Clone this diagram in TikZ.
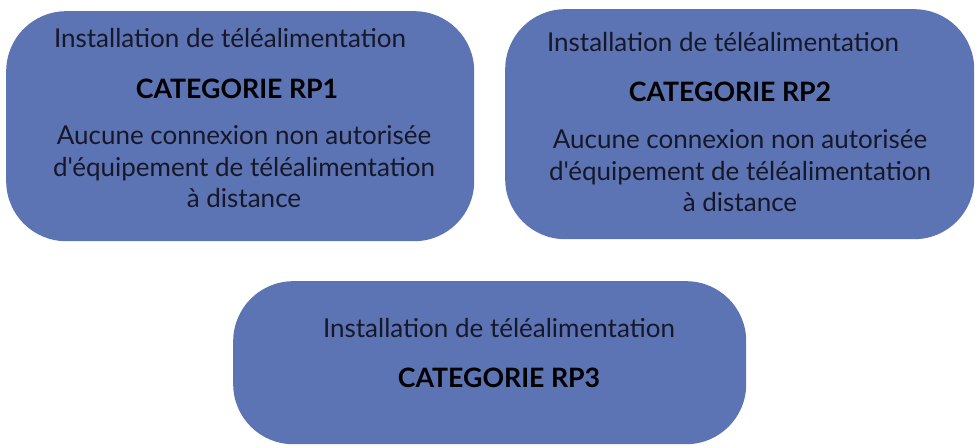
\documentclass[tikz,border=0pt]{standalone}
\usepackage{fontspec}
\setmainfont{Lato}[Ligatures=TeXOff]
\usepackage{xcolor}
\usetikzlibrary{positioning}
\definecolor{catfill}{RGB}{92,115,180}
\definecolor{cattext}{RGB}{22,24,40}
\definecolor{titletext}{RGB}{0,0,0}

\begin{document}
\begin{tikzpicture}[
                x=1pt, y=-1pt,
                font=\fontsize{26}{31.5}\selectfont,
                catbox/.style={rectangle, rounded corners=60pt, fill=catfill, draw=none, anchor=north west, inner sep=0pt},
                headline/.style={anchor=base, text=cattext, inner sep=0pt},
                cattitle/.style={anchor=base, text=titletext, font=\fontsize{26.7}{31.5}\selectfont\bfseries, inner sep=0pt},
                catdesc/.style={anchor=base, text=cattext, align=center, inner sep=0pt}
                ]
                \useasboundingbox (0,0) rectangle (979,446);

                \node[catbox, minimum width=468pt, minimum height=230pt] (cat1) at (6,11) {};
                \node[catbox, minimum width=469pt, minimum height=230pt] (cat2) at (505,9) {};
                \node[catbox, minimum width=513pt, minimum height=163pt] (cat3) at (233,281) {};

                % Category RP1
                \node[headline] (inst1) at (230,48) {Installation de téléalimentation};
                \node[cattitle] (title1) at (237,99) {CATEGORIE RP1};
                \node[catdesc] (desc1) at (244,208) {Aucune connexion non autorisée\\d'équipement de téléalimentation\\à distance};

                % Category RP2
                \node[headline] (inst2) at (723,52) {Installation de téléalimentation};
                \node[cattitle] (title2) at (730,102) {CATEGORIE RP2};
                \node[catdesc] (desc2) at (740,212) {Aucune connexion non autorisée\\d'équipement de téléalimentation\\à distance};

                % Category RP3
                \node[headline] (inst3) at (499,337) {Installation de téléalimentation};
                \node[cattitle] (title3) at (499,387) {CATEGORIE RP3};
            \end{tikzpicture}
\end{document}
